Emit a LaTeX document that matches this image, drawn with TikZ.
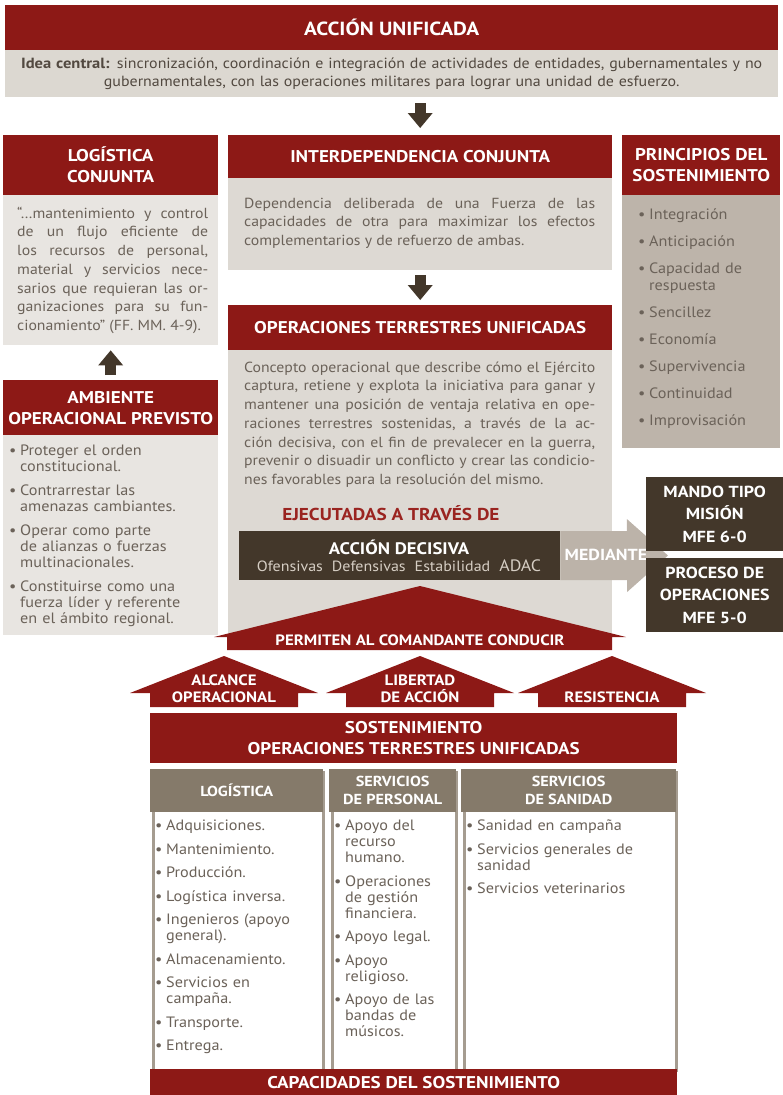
\documentclass[tikz,border=0pt]{standalone}
\usepackage{fontspec}
\setmainfont{PT Sans}[FakeStretch=1.08]
\newfontfamily\headfont[FakeStretch=1.12]{PT Sans}
\usetikzlibrary{arrows.meta}

\definecolor{unired}{HTML}{8D1916}
\definecolor{bandgray}{HTML}{DCD8D1}
\definecolor{palebody}{HTML}{E8E5E1}
\definecolor{midbody}{HTML}{DDD9D3}
\definecolor{deepbody}{HTML}{BDB4AA}
\definecolor{darkbrown}{HTML}{43372A}
\definecolor{medgray}{HTML}{BCB3A9}
\definecolor{colbrown}{HTML}{857A6A}
\definecolor{colborder}{HTML}{A59C90}
\definecolor{bodytext}{HTML}{6B6259}
\definecolor{ideatext}{HTML}{524940}
\definecolor{ejecred}{HTML}{9A2420}
\definecolor{formtext}{HTML}{D6CEC4}

\newcommand{\hd}[2]{\headfont\bfseries\fontsize{#1}{#2}\selectfont}
\newcommand{\itm}[1]{\par\hangindent=11pt\hangafter=1\noindent\makebox[11pt][l]{\strut\textbullet}#1}

\tikzset{
  box/.style={anchor=north west, inner sep=0pt},
  redhead/.style={box, fill=unired, text=white, align=center, font={\hd{17}{21}}},
  darkbox/.style={box, fill=darkbrown, text=white, align=center, font={\hd{16}{22.5}}},
  colhead/.style={box, fill=colbrown, text=white, align=center, font={\hd{14.5}{18}}},
  colframe/.style={box, draw=colborder, line width=3pt, fill=white},
  para/.style={box, text=bodytext, align=justify, font={\fontsize{14.6}{18.7}\selectfont\frenchspacing}},
  bullets/.style={box, text=bodytext, align=left, text width=240pt, font={\fontsize{15}{16}\selectfont}},
  blockarr/.style={draw=darkbrown, line width=11pt, -{Triangle[width=25pt,length=15pt,line width=0pt]}, shorten >=5pt, shorten <=5pt},
  whitelbl/.style={inner sep=0pt, text=white, align=center},
}

\begin{document}
\begin{tikzpicture}[x=1pt,y=-1pt]
  \useasboundingbox (0,0) rectangle (783,1095);

  % top band
  \node[redhead, minimum width=773pt, minimum height=45pt, font={\hd{19}{22}}] (unif) at (5,5) {ACCIÓN UNIFICADA};
  \node[box, fill=bandgray, minimum width=773pt, minimum height=47pt, text width=770pt, align=center,
        text=ideatext, font={\fontsize{14.75}{18}\selectfont}] (idea) at (5,50)
    {{\headfont\bfseries Idea central:} sincronización, coordinación e integración de actividades de entidades, gubernamentales y no\\
     gubernamentales, con las operaciones militares para lograr una unidad de esfuerzo.};

  % left column
  \node[redhead, minimum width=215pt, minimum height=60pt] (logcon) at (3,135) {LOGÍSTICA\\CONJUNTA};
  \node[box, fill=palebody, minimum width=215pt, minimum height=150pt] (logbody) at (3,195) {};
  \node[para, text width=191pt] (logtext) at (17,205)
    {\strut“…mantenimiento y control\linebreak de un flujo eficiente de\linebreak los recursos de personal,\linebreak
     material y servicios nece-\linebreak sarios que requieran las or-\linebreak ganizaciones para su fun-\linebreak
     cionamiento” (FF. MM. 4-9).};

  \node[redhead, minimum width=215pt, minimum height=55pt] (amb) at (3,380) {AMBIENTE\\OPERACIONAL PREVISTO};
  \node[box, fill=palebody, minimum width=215pt, minimum height=200pt] (ambbody) at (3,435) {};
  \node[bullets] (ambtext) at (9,431)
    {\setlength{\parskip}{8pt}%
     \itm{Proteger el orden\newline constitucional.}
     \itm{Contrarrestar las\newline amenazas cambiantes.}
     \itm{Operar como parte\newline de alianzas o fuerzas\newline multinacionales.}
     \itm{Constituirse como una\newline fuerza líder y referente\newline en el ámbito regional.}\par};
  \draw[blockarr] (amb.north) -- (logbody.south);

  % right column
  \node[redhead, minimum width=158pt, minimum height=60pt] (princ) at (622,135) {PRINCIPIOS DEL\\SOSTENIMIENTO};
  \node[box, fill=deepbody, minimum width=158pt, minimum height=253pt] (princbody) at (622,195) {};
  \node[bullets, font={\fontsize{15}{17}\selectfont}] (princtext) at (638,192)
    {\setlength{\parskip}{10pt}%
     \itm{Integración}
     \itm{Anticipación}
     \itm{Capacidad de\newline respuesta}
     \itm{Sencillez}
     \itm{Economía}
     \itm{Supervivencia}
     \itm{Continuidad}
     \itm{Improvisación}\par};

  % centre column
  \node[redhead, minimum width=384pt, minimum height=43pt] (interdep) at (228,135) {INTERDEPENDENCIA CONJUNTA};
  \node[box, fill=midbody, minimum width=384pt, minimum height=92pt] (interbody) at (228,178) {};
  \node[para, text width=351pt] (intertext) at (244,195)
    {\strut Dependencia deliberada de una Fuerza de las\linebreak capacidades de otra para maximizar los efectos\linebreak
     complementarios y de refuerzo de ambas.};
  \draw[blockarr, shorten <=6pt, shorten >=7pt] (interdep.north |- idea.south) -- (interdep.north);

  \node[redhead, minimum width=384pt, minimum height=45pt] (otu) at (228,305) {OPERACIONES TERRESTRES UNIFICADAS};
  \node[box, fill=midbody, minimum width=384pt, minimum height=287pt] (otubody) at (228,350) {};
  \node[para, text width=351pt] (otutext) at (244,359)
    {\strut Concepto operacional que describe cómo el Ejército\linebreak captura, retiene y explota la iniciativa para ganar y\linebreak
     mantener una posición de ventaja relativa en ope-\linebreak raciones terrestres sostenidas, a través de la ac-\linebreak
     ción decisiva, con el fin de prevalecer en la guerra,\linebreak prevenir o disuadir un conflicto y crear las condicio-\linebreak
     nes favorables para la resolución del mismo.};
  \draw[blockarr] (interbody.south) -- (otu.north);

  \node[inner sep=0pt, text=ejecred, font={\hd{17.2}{20}}] (ejec) at (391,513) {EJECUTADAS A TRAVÉS DE};

  % decisive action and the MEDIANTE arrow
  \node[darkbox, minimum width=321pt, minimum height=49pt] (decis) at (239,531) {};
  \coordinate (medtip) at (668,555.5);
  \draw[draw=medgray, line width=49pt, -{Triangle[width=73pt,length=41pt,line width=0pt]}] (decis.east) -- (medtip);
  \node[whitelbl, font={\hd{16.7}{20}}] (decistitle) at (399,547) {ACCIÓN DECISIVA};
  \node[inner sep=0pt, text=formtext, font={\fontsize{14.8}{16}\selectfont}] (decisforms) at (399,566)
    {Ofensivas\hskip9pt Defensivas\hskip9pt Estabilidad\hskip9pt {\fontsize{16.5}{16}\selectfont ADAC}};
  \node[whitelbl, font={\hd{16}{20}}] (medlbl) at (606,555) {MEDIANTE};

  \node[darkbox, minimum width=137pt, minimum height=74pt] (mando) at (646,477) {MANDO TIPO\\MISIÓN\\MFE 6-0};
  \node[darkbox, minimum width=137pt, minimum height=74pt] (proceso) at (646,558) {PROCESO DE\\OPERACIONES\\MFE 5-0};

  % roof arrows
  \fill[unired] (227,650) -- (227,637) -- (214,637) -- (420,586) -- (626,637) -- (612,637) -- (612,650) -- cycle;
  \node[whitelbl, font={\hd{15}{18}}] (permiten) at (420,640) {PERMITEN AL COMANDANTE CONDUCIR};

  \foreach \cx/\lbl/\nm in {224/{ALCANCE\\OPERACIONAL}/alcance, 420/{LIBERTAD\\DE ACCIÓN}/libertad, 612/{RESISTENCIA}/resist} {
    \fill[unired] (\cx-74,707) -- (\cx-74,693) -- (\cx-94,693) -- (\cx,656) -- (\cx+94,693) -- (\cx+74,693) -- (\cx+74,707) -- cycle;
    \node[whitelbl, anchor=south, font={\hd{15}{17}}] (\nm) at (\cx,702.5) {\lbl};
  }

  % sustainment block
  \node[redhead, minimum width=527pt, minimum height=50pt] (sost) at (150,713) {SOSTENIMIENTO\\OPERACIONES TERRESTRES UNIFICADAS};

  \node[colframe, minimum width=170pt, minimum height=298pt] (logcol) at (151.5,770.5) {};
  \node[colframe, minimum width=124pt, minimum height=298pt] (perscol) at (330.5,770.5) {};
  \node[colframe, minimum width=212pt, minimum height=298pt] (sancol) at (462.5,770.5) {};
  \node[colhead, minimum width=173pt, minimum height=43pt] (loghead) at (150,769) {LOGÍSTICA};
  \node[colhead, minimum width=127pt, minimum height=43pt] (pershead) at (329,769) {SERVICIOS\\DE PERSONAL};
  \node[colhead, minimum width=215pt, minimum height=43pt] (sanhead) at (461,769) {SERVICIOS\\DE SANIDAD};

  \node[bullets] (logitems) at (155,807)
    {\setlength{\parskip}{7.5pt}%
     \itm{Adquisiciones.}
     \itm{Mantenimiento.}
     \itm{Producción.}
     \itm{Logística inversa.}
     \itm{Ingenieros (apoyo\newline general).}
     \itm{Almacenamiento.}
     \itm{Servicios en\newline campaña.}
     \itm{Transporte.}
     \itm{Entrega.}\par};
  \node[bullets] (persitems) at (334,807)
    {\setlength{\parskip}{7.5pt}%
     \itm{Apoyo del\newline recurso\newline humano.}
     \itm{Operaciones\newline de gestión\newline financiera.}
     \itm{Apoyo legal.}
     \itm{Apoyo\newline religioso.}
     \itm{Apoyo de las\newline bandas de\newline músicos.}\par};
  \node[bullets] (sanitems) at (466,807)
    {\setlength{\parskip}{7.5pt}%
     \itm{Sanidad en campaña}
     \itm{Servicios generales de\newline sanidad}
     \itm{Servicios veterinarios}\par};

  \node[redhead, minimum width=527pt, minimum height=26pt] (capac) at (150,1069) {CAPACIDADES DEL SOSTENIMIENTO};
\end{tikzpicture}
\end{document}
